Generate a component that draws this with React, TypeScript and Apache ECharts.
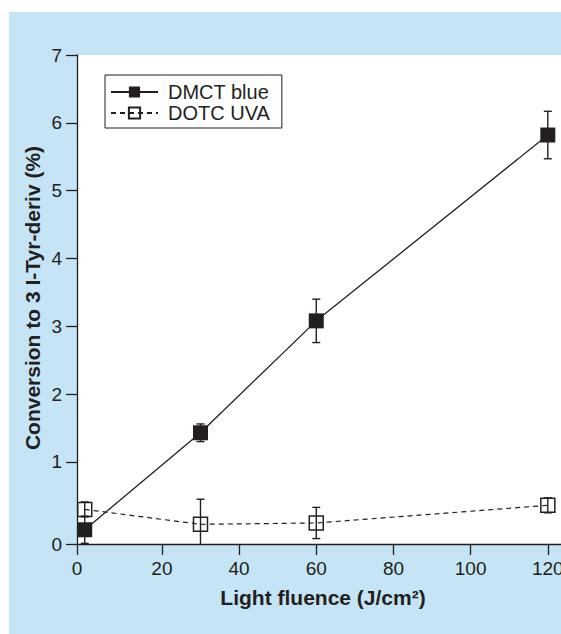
import React, { useEffect, useRef } from "react";
import * as echarts from "echarts";

// Light fluence (J/cm²) at which each sample was measured
const fluence = [0, 30, 60, 120];

// Conversion to 3 I-Tyr-deriv (%), mean and ± error
const dmctBlue = [0.0, 1.43, 3.08, 5.82];
const dmctBlueErr = [0.2, 0.13, 0.32, 0.35];
const dotcUva = [0.3, 0.08, 0.1, 0.36];
const dotcUvaErr = [0.11, 0.37, 0.23, 0.11];

// Axis extents: the origin sits slightly below/left of zero and is labelled "0"
const X_MIN = -2;
const X_MAX = 140;
const Y_MIN = -0.21;
const Y_MAX = 7;

const xTickValues = [X_MIN, 20, 40, 60, 80, 100, 120];
const xTickLabels = ["0", "20", "40", "60", "80", "100", "120"];
const yTickValues = [Y_MIN, 1, 2, 3, 4, 5, 6, 7];
const yTickLabels = ["0", "1", "2", "3", "4", "5", "6", "7"];

const seriesNames = ["DMCT blue", "DOTC UVA"];

const INK = "#231f20";
const FONT = '"Liberation Sans", Arial, Helvetica, sans-serif';

function pairs(xs: number[], ys: number[]) {
  return xs.map((x, i) => [x, ys[i]]);
}

function errRows(xs: number[], ys: number[], es: number[]) {
  return xs.map((x, i) => [x, ys[i] - es[i], ys[i] + es[i]]);
}

function errorBarRender(params: any, api: any) {
  const x = api.value(0);
  const lo = api.coord([x, api.value(1)]);
  const hi = api.coord([x, api.value(2)]);
  const cap = 4;
  const style = { stroke: INK, lineWidth: 1.4, fill: null };
  return {
    type: "group",
    children: [
      { type: "line", shape: { x1: hi[0], y1: hi[1], x2: lo[0], y2: lo[1] }, style },
      { type: "line", shape: { x1: hi[0] - cap, y1: hi[1], x2: hi[0] + cap, y2: hi[1] }, style },
      { type: "line", shape: { x1: lo[0] - cap, y1: lo[1], x2: lo[0] + cap, y2: lo[1] }, style },
    ],
  };
}

function labelFor(values: number[], labels: string[]) {
  return (v: number) => {
    const i = values.findIndex((t) => Math.abs(t - v) < 1e-6);
    return i >= 0 ? labels[i] : "";
  };
}

export default function App() {
  const ref = useRef<HTMLDivElement>(null);

  useEffect(() => {
    if (!ref.current) return;
    const chart = echarts.init(ref.current, null, { renderer: "svg" });
    const axisLine = { show: true, onZero: false, lineStyle: { color: INK, width: 1.3 } };
    const tickStyle = { color: INK, width: 1.3 };
    const labelStyle = { color: INK, fontSize: 19, fontFamily: FONT };

    chart.setOption({
      animation: false,
      backgroundColor: "transparent",
      textStyle: { fontFamily: FONT },
      grid: {
        left: 68,
        top: 43,
        width: 548,
        height: 489,
        show: true,
        backgroundColor: "#ffffff",
        borderWidth: 0,
      },
      legend: {
        data: seriesNames,
        orient: "vertical",
        left: 96,
        top: 63,
        itemWidth: 47,
        itemHeight: 14,
        itemGap: 1,
        padding: [7, 12, 5, 5],
        borderColor: INK,
        borderWidth: 1,
        backgroundColor: "#ffffff",
        borderRadius: 0,
        textStyle: {
          color: INK,
          fontSize: 20,
          lineHeight: 20,
          fontFamily: FONT,
          padding: [0, 0, 0, 5],
        },
      },
      xAxis: {
        type: "value",
        min: X_MIN,
        max: X_MAX,
        axisLine,
        axisTick: { show: true, length: 11, customValues: xTickValues, lineStyle: tickStyle },
        axisLabel: {
          ...labelStyle,
          margin: 15,
          customValues: xTickValues,
          formatter: labelFor(xTickValues, xTickLabels),
        },
        splitLine: { show: false },
      },
      yAxis: {
        type: "value",
        min: Y_MIN,
        max: Y_MAX,
        axisLine,
        axisTick: { show: true, length: 11, customValues: yTickValues, lineStyle: tickStyle },
        axisLabel: {
          ...labelStyle,
          margin: 15,
          customValues: yTickValues,
          formatter: labelFor(yTickValues, yTickLabels),
        },
        splitLine: { show: false },
      },
      graphic: [
        {
          type: "text",
          x: 23,
          y: 286,
          rotation: Math.PI / 2,
          style: {
            text: "Conversion to 3 I-Tyr-deriv (%)",
            fontSize: 21,
            fontWeight: "bold",
            fontFamily: FONT,
            fill: INK,
            textAlign: "center",
            textVerticalAlign: "middle",
          },
        },
        {
          type: "text",
          x: 314,
          y: 585,
          style: {
            text: "Light fluence (J/cm²)",
            fontSize: 21,
            fontWeight: "bold",
            fontFamily: FONT,
            fill: INK,
            textAlign: "center",
            textVerticalAlign: "middle",
          },
        },
      ],
      series: [
        {
          name: "DMCT blue err",
          type: "custom",
          renderItem: errorBarRender,
          data: errRows(fluence, dmctBlue, dmctBlueErr),
          encode: { x: 0, y: [1, 2] },
          clip: true,
          z: 2,
          silent: true,
        },
        {
          name: "DOTC UVA err",
          type: "custom",
          renderItem: errorBarRender,
          data: errRows(fluence, dotcUva, dotcUvaErr),
          encode: { x: 0, y: [1, 2] },
          clip: true,
          z: 2,
          silent: true,
        },
        {
          name: seriesNames[0],
          type: "line",
          data: pairs(fluence, dmctBlue),
          symbol: "rect",
          symbolSize: 15,
          showAllSymbol: true,
          itemStyle: { color: INK, borderWidth: 0 },
          lineStyle: { color: INK, width: 1.3, type: "solid" },
          z: 4,
        },
        {
          name: seriesNames[1],
          type: "line",
          data: pairs(fluence, dotcUva),
          symbol: "rect",
          symbolSize: 14,
          showAllSymbol: true,
          itemStyle: { color: "rgba(255,255,255,0)", borderColor: INK, borderWidth: 1.5 },
          lineStyle: { color: INK, width: 1.2, type: [5, 4] },
          z: 3,
        },
      ],
    });

    return () => chart.dispose();
  }, []);

  return (
    <div
      style={{
        position: "fixed",
        left: 9,
        top: 12,
        width: 552,
        height: 622,
        overflow: "hidden",
        background: "#c5e4f5",
      }}
    >
      <div ref={ref} style={{ width: 680, height: 622 }} />
    </div>
  );
}
